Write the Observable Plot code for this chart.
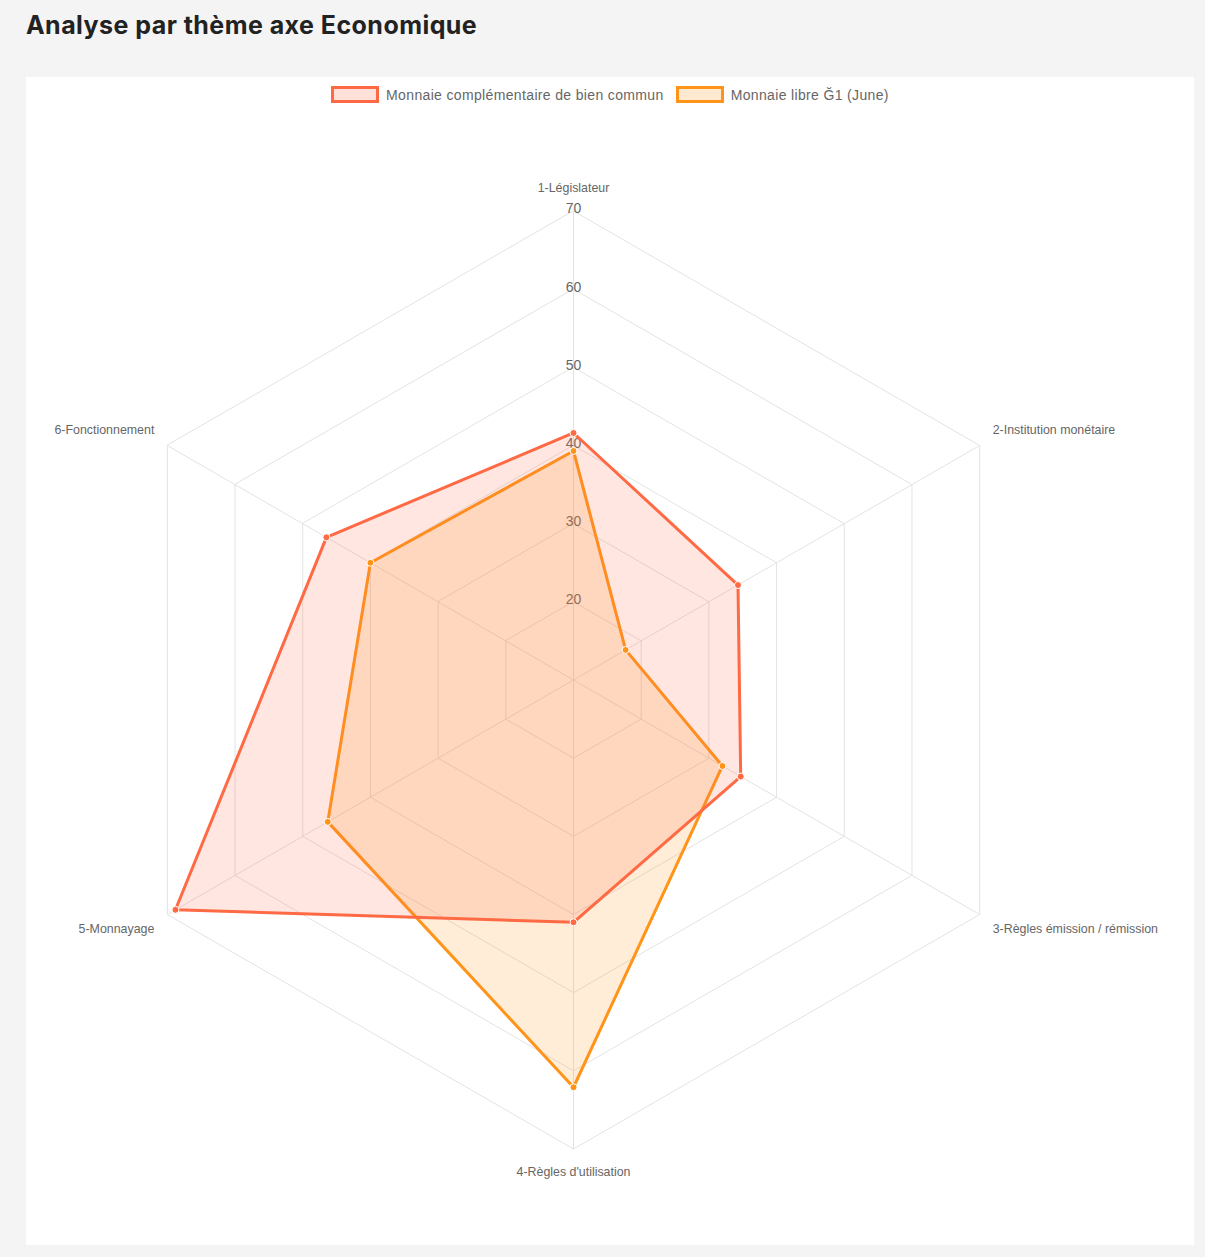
<!DOCTYPE html>
<html>
<head>
<meta charset="utf-8">
<script src="https://cdn.jsdelivr.net/npm/d3@7"></script>
<script src="https://cdn.jsdelivr.net/npm/@observablehq/plot@0.6"></script>
<style>
  html, body { margin: 0; padding: 0; background: #f4f4f4; }
  body { width: 1205px; height: 1257px; position: relative; overflow: hidden; }
  #title { position: absolute; left: 26px; top: 10px; font-family: Inter, "Open Sans", sans-serif; font-weight: 700; font-size: 25px; color: #222; letter-spacing: 0.45px; }
  #card { position: absolute; left: 26px; top: 77px; width: 1168px; height: 1168px; background: #fff; }
  #legend { position: absolute; left: 0; top: 9px; width: 100%; display: flex; justify-content: center; gap: 12px; font-family: "Liberation Sans", Arial, sans-serif; font-size: 14px; letter-spacing: 0.35px; color: #666; z-index: 2; }
  .item { display: flex; align-items: center; gap: 7px; }
  .sw { width: 42px; height: 11px; border-width: 3px; border-style: solid; }
  #chart { position: absolute; left: 0; top: 0; }
</style>
</head>
<body>
<div id="title">Analyse par thème axe Economique</div>
<div id="card">
  <div id="legend"></div>
  <div id="chart"></div>
</div>
<script>
// ---- data ----
const axes = ["1-Législateur", "2-Institution monétaire", "3-Règles émission / rémission", "4-Règles d'utilisation", "5-Monnayage", "6-Fonctionnement"];
const seriesNames = ["Monnaie complémentaire de bien commun", "Monnaie libre Ğ1 (June)"];
const valuesCommun = [41.6, 34.3, 34.7, 41.0, 68.8, 46.5];
const valuesJune = [39.3, 17.7, 32.0, 62.1, 46.3, 40.0];
const ticks = [20, 30, 40, 50, 60, 70];
const rMin = 10, rMax = 70;
const colors = ["#ff6a45", "#ff9419"];

// ---- layout ----
const W = 1168, H = 1168;
const cx = 547, cy = 602.5, R = 469;
const k = R / (rMax - rMin);

const n = axes.length;
const polar = (i, v) => {
  const a = i * 2 * Math.PI / n;
  const r = v - rMin;
  return {x: r * Math.sin(a), y: r * Math.cos(a)};
};

const ringPts = ticks.flatMap(t => axes.map((a, i) => ({ring: t, ...polar(i, t)})));
const spokes = axes.map((a, i) => ({name: a, i, ...polar(i, rMax)}));
const tickLbl = ticks.map(t => ({t, ...polar(0, t)}));
const series = [
  {name: seriesNames[0], values: valuesCommun, color: colors[0]},
  {name: seriesNames[1], values: valuesJune, color: colors[1]}
];
const pts = s => s.values.map((v, i) => ({name: s.name, axis: axes[i], v, ...polar(i, v)}));

const lblMark = (idx, opts) => Plot.text(spokes.filter(d => idx.includes(d.i)), {
  x: "x", y: "y", text: "name", fill: "#666", fontSize: 12.4,
  fontFamily: "Liberation Sans, Arial, sans-serif", ...opts
});

const drawOrder = [series[1], series[0]];

const chart = Plot.plot({
  width: W, height: H,
  margin: 0,
  x: {domain: [-cx / k, (W - cx) / k], axis: null},
  y: {domain: [-(H - cy) / k, cy / k], axis: null},
  style: {background: "transparent"},
  marks: [
    Plot.link(spokes, {x1: 0, y1: 0, x2: "x", y2: "y", stroke: "#e3e3e3", strokeWidth: 1}),
    Plot.line(ringPts, {x: "x", y: "y", z: "ring", curve: "linear-closed", stroke: "#e3e3e3", strokeWidth: 1}),
    Plot.text(tickLbl, {x: "x", y: "y", text: d => String(d.t), dy: -2, fill: "#666", fontSize: 14, fontFamily: "Liberation Sans, Arial, sans-serif"}),
    lblMark([0], {dy: -23, textAnchor: "middle"}),
    lblMark([3], {dy: 23, textAnchor: "middle"}),
    lblMark([1], {dx: 13, dy: -15, textAnchor: "start"}),
    lblMark([2], {dx: 13, dy: 15, textAnchor: "start"}),
    lblMark([5], {dx: -13, dy: -15, textAnchor: "end"}),
    lblMark([4], {dx: -13, dy: 15, textAnchor: "end"}),
    ...drawOrder.map(s =>
      Plot.line(pts(s), {x: "x", y: "y", curve: "linear-closed", fill: s.color, fillOpacity: 0.17, stroke: s.color, strokeWidth: 3, strokeLinejoin: "miter"})
    ),
    ...drawOrder.map(s => Plot.dot(pts(s), {x: "x", y: "y", r: 3.5, fill: s.color, stroke: "#fff", strokeWidth: 1}))
  ]
});
document.getElementById("chart").appendChild(chart);

// legend
const lg = document.getElementById("legend");
series.forEach(s => {
  const it = document.createElement("div");
  it.className = "item";
  const sw = document.createElement("div");
  sw.className = "sw";
  sw.style.borderColor = s.color;
  const c = d3.color(s.color); c.opacity = 0.2;
  sw.style.background = c.formatRgb();
  const t = document.createElement("span");
  t.textContent = s.name;
  it.appendChild(sw); it.appendChild(t);
  lg.appendChild(it);
});
</script>
</body>
</html>
